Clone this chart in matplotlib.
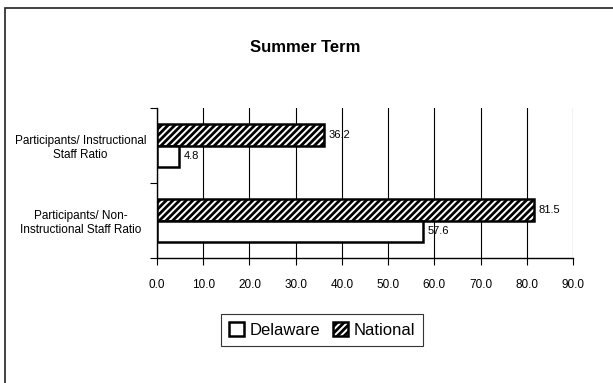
import matplotlib
matplotlib.use("Agg")
import matplotlib.pyplot as plt
from matplotlib.patches import Rectangle

# data
categories = ["Participants/ Non-\nInstructional Staff Ratio",
              "Participants/ Instructional\nStaff Ratio"]
delaware = [57.6, 4.8]
national = [81.5, 36.2]
xticks = [0, 10, 20, 30, 40, 50, 60, 70, 80, 90]

plt.rcParams["font.family"] = ["Liberation Sans", "DejaVu Sans"]
plt.rcParams["hatch.linewidth"] = 2.0

fig = plt.figure(figsize=(6.13, 3.83), dpi=100)
ax = fig.add_axes([157 / 613, 1 - 258 / 383, 416 / 613, 150 / 383])

h = 0.29
ypos = list(range(len(categories)))
nat_y = [y + h / 2 for y in ypos]
del_y = [y - h / 2 for y in ypos]

ax.barh(nat_y, national, height=h, color="white", edgecolor="black",
        linewidth=1.8, hatch="/////", zorder=3, label="National")
ax.barh(del_y, delaware, height=h, color="white", edgecolor="black",
        linewidth=1.8, zorder=3, label="Delaware")

for y, v in zip(nat_y, national):
    ax.text(v + 1.0, y, f"{v:.1f}", va="center", ha="left", fontsize=8, zorder=4)
for y, v in zip(del_y, delaware):
    ax.text(v + 1.0, y, f"{v:.1f}", va="center", ha="left", fontsize=8, zorder=4)

ax.set_xlim(0, 90)
ax.set_ylim(-0.5, len(categories) - 0.5)
ax.set_xticks(xticks)
ax.set_xticklabels([f"{v:.1f}" for v in xticks], fontsize=8.5)
ax.xaxis.grid(True, color="black", linewidth=0.8, zorder=0)
ax.set_axisbelow(True)

ax.set_yticks([-0.5, 0.5, 1.5])
ax.set_yticklabels([])
ax.set_yticks(ypos, minor=True)
ax.set_yticklabels(categories, minor=True, fontsize=8.5, ha="center")
ax.tick_params(axis="y", which="minor", length=0, pad=55)
ax.tick_params(axis="y", which="major", length=5, width=0.8, direction="out")
ax.tick_params(axis="x", length=5, width=0.8, direction="out", pad=10)

for s in ["top", "right"]:
    ax.spines[s].set_visible(False)
ax.spines["left"].set_linewidth(1.0)
ax.spines["bottom"].set_linewidth(1.0)

fig.text(305 / 613, 1 - 47 / 383, "Summer Term", ha="center", va="center",
         fontsize=12, fontweight="bold")

handles = [Rectangle((0, 0), 1, 1, facecolor="white", edgecolor="black", linewidth=1.8),
           Rectangle((0, 0), 1, 1, facecolor="white", edgecolor="black", linewidth=1.8,
                     hatch="/////")]
leg = fig.legend(handles, ["Delaware", "National"], loc="center",
                 bbox_to_anchor=(322 / 613, 1 - 330 / 383), ncol=2, fontsize=12,
                 frameon=True, fancybox=False, handlelength=0.9, handleheight=0.9,
                 handletextpad=0.3, columnspacing=0.8, borderpad=0.5)
leg.get_frame().set_edgecolor("black")
leg.get_frame().set_linewidth(0.8)

# outer chart border (only top and left edges visible)
fig.patches.append(Rectangle((5 / 613, -0.1), 1.2, 1 - 8 / 383 + 0.1,
                             transform=fig.transFigure, fill=False,
                             edgecolor="#222222", linewidth=1.2))

fig.savefig("out.png", dpi=100, facecolor="white")
